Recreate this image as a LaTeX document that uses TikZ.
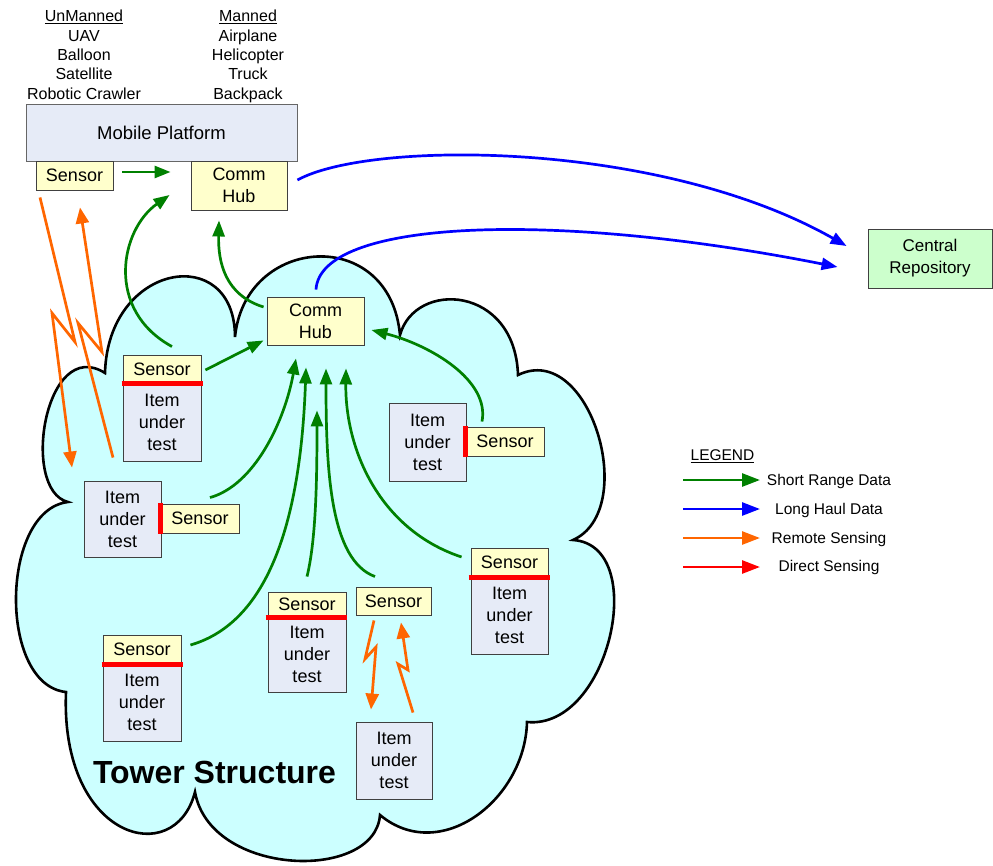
\documentclass[tikz,border=0pt]{standalone}
\usepackage{fontspec}
\setmainfont{Liberation Sans}
\usetikzlibrary{arrows.meta,calc}
\definecolor{cloudfill}{HTML}{CCFFFF}
\definecolor{sensorfill}{HTML}{FFFFCC}
\definecolor{itemfill}{HTML}{E6EBF7}
\definecolor{repofill}{HTML}{CCFFCC}
\definecolor{boxline}{HTML}{404040}
\definecolor{gdata}{HTML}{008000}
\definecolor{bdata}{HTML}{0000FF}
\definecolor{odata}{HTML}{FF6600}
\definecolor{rdata}{HTML}{FF0000}
\begin{document}
\begin{tikzpicture}[x=1pt,y=-1pt,
  every node/.style={inner sep=0pt},
  boxbase/.style={draw=boxline, line width=0.9pt, align=center, font=\fontsize{18}{22}\selectfont},
  sensorbox/.style={boxbase, fill=sensorfill, minimum height=29pt, minimum width=78pt},
  itembox/.style={boxbase, fill=itemfill, minimum width=77pt, minimum height=77pt},
  hubbox/.style={boxbase, fill=sensorfill, minimum width=97pt, minimum height=48pt},
  listtext/.style={anchor=base, font=\fontsize{16}{19}\selectfont},
  legtext/.style={anchor=base, font=\fontsize{15.5}{19}\selectfont},
  garrow/.style={draw=gdata, line width=2.7pt, -{Triangle[length=16pt,width=12pt]}},
  barrow/.style={draw=bdata, line width=2.7pt, -{Triangle[length=16pt,width=12pt]}},
  oarrow/.style={draw=odata, line width=2.7pt, line join=miter, -{Triangle[length=16pt,width=13pt]}},
  rarrow/.style={draw=rdata, line width=2.7pt, -{Triangle[length=16pt,width=13pt]}},
  redmark/.style={draw=rdata, line width=4.5pt},
  cloudline/.style={draw=black, fill=cloudfill, line width=2.6pt, line join=miter}
]
\useasboundingbox (0,0) rectangle (993,865);
\fill[white] (0,0) rectangle (993,865);

% cloud
\path[cloudline] (235,337) .. controls (245,235) and (390,225) .. (400,335)
 .. controls (415,280) and (515,285) .. (518,375)
 .. controls (590,340) and (640,510) .. (573,540)
 .. controls (650,545) and (610,730) .. (527,722)
 .. controls (525,800) and (440,865) .. (380,815)
 .. controls (375,882) and (210,877) .. (195,792)
 .. controls (175,870) and (60,840) .. (66,692)
 .. controls (-2,685) and (0,510) .. (68,502)
 .. controls (20,490) and (45,335) .. (105,373)
 .. controls (108,262) and (235,242) .. (235,337) -- cycle;

% top lists
\node[listtext] (ut1) at (84,21.7) {\underline{UnManned}};
\node[listtext] (ut2) at (84,41) {UAV};
\node[listtext] (ut3) at (84,60.3) {Balloon};
\node[listtext] (ut4) at (84,79.7) {Satellite};
\node[listtext] (ut5) at (84,99.2) {Robotic Crawler};
\node[listtext] (mt1) at (248,21.7) {\underline{Manned}};
\node[listtext] (mt2) at (248,41) {Airplane};
\node[listtext] (mt3) at (248,60.3) {Helicopter};
\node[listtext] (mt4) at (248,79.7) {Truck};
\node[listtext] (mt5) at (248,99.2) {Backpack};

% mobile platform
\node[boxbase, draw=boxline!80, fill=itemfill, minimum width=271pt, minimum height=57pt, font=\fontsize{18.5}{22}\selectfont] (mp) at (161.5,132.5) {Mobile Platform};
\node[sensorbox, minimum width=77pt] (sTop) at (74.5,175.5) {Sensor};
\node[hubbox, minimum width=96pt, minimum height=49pt] (chTop) at (239,185.5) {Comm\\Hub};

% central repository
\node[boxbase, fill=repofill, minimum width=124pt, minimum height=59pt, font=\fontsize{17}{22}\selectfont] (cr) at (930,258.5) {Central\\Repository};

% cloud comm hub
\node[hubbox] (ch) at (315.5,321) {Comm\\Hub};

% sensor / item groups
\node[itembox, minimum width=78pt, minimum height=78pt] (i1) at (162,422) {Item\\under\\test};
\node[sensorbox, minimum height=28pt] (s1) at (162,369) {Sensor};
\draw[redmark] ($(s1.south west)+(-1,0)$) -- ($(s1.south east)+(2,0)$);

\node[itembox, minimum height=76pt] (i2) at (122.5,519) {Item\\under\\test};
\node[sensorbox] (s2) at (200,518.5) {Sensor};
\draw[redmark] ($(s2.north west)+(0,-1)$) -- ($(s2.south west)+(0,1)$);

\node[itembox, minimum height=78pt] (i3) at (427.5,442) {Item\\under\\test};
\node[sensorbox] (s3) at (505,441.5) {Sensor};
\draw[redmark] ($(s3.north west)+(0,-1)$) -- ($(s3.south west)+(0,1)$);

\node[itembox] (i4) at (509.5,615.5) {Item\\under\\test};
\node[sensorbox, minimum width=77pt] (s4) at (509.5,562.5) {Sensor};
\draw[redmark] ($(s4.south west)+(-2,0)$) -- ($(s4.south east)+(2,0)$);

\node[itembox, minimum width=78pt] (i5) at (142,702.5) {Item\\under\\test};
\node[sensorbox] (s5) at (142,649.5) {Sensor};
\draw[redmark] ($(s5.south west)+(-1,0)$) -- ($(s5.south east)+(2,0)$);

\node[itembox, minimum width=78pt, minimum height=75pt] (i6) at (307,654.5) {Item\\under\\test};
\node[sensorbox, minimum height=25pt] (s6) at (307,604.5) {Sensor};
\draw[redmark] ($(s6.south west)+(-2,0)$) -- ($(s6.south east)+(1,0)$);

\node[sensorbox, minimum width=75pt, minimum height=28pt] (s7) at (393.5,601) {Sensor};
\node[itembox, minimum width=76pt] (i7) at (394,760.5) {Item\\under\\test};

% tower label
\node[anchor=base, font=\fontsize{32}{36}\selectfont\bfseries] (tower) at (214.5,783) {Tower Structure};

% green short range arrows
\draw[garrow] ($(sTop.east)+(9,-3.5)$) -- ($(chTop.west)+(-20,-13.5)$);
\draw[garrow] ($(s1.north)+(10,-8)$) .. controls (105,310) and (120,230) .. ($(chTop.west)+(-21,9.5)$);
\draw[garrow] ($(ch.west)+(-3,-14)$) .. controls (225,295) and (218,262) .. ($(chTop.south)+(-20,10)$);
\draw[garrow] ($(s1.east)+(4,1)$) -- ($(ch.south west)+(-3,-5)$);
\draw[garrow] ($(s2.north)+(10,-6)$) .. controls (255,485) and (285,420) .. ($(ch.south)+(-19.5,13)$);
\draw[garrow] ($(s5.east)+(9,-4.5)$) .. controls (260,625) and (300,540) .. ($(ch.south)+(-9.5,22)$);
\draw[garrow] ($(s6.north)+(0,-15)$) .. controls (316,540) and (317,480) .. ($(ch.south)+(1.5,65)$);
\draw[garrow] ($(s7.north)+(-18.5,-10)$) .. controls (330,560) and (326,470) .. ($(ch.south)+(10.5,23)$);
\draw[garrow] ($(s4.west)+(-9,-5.5)$) .. controls (380,530) and (345,450) .. ($(ch.south)+(30.5,23)$);
\draw[garrow] ($(s3.north)+(-23,-5)$) .. controls (490,380) and (430,345) .. ($(ch.east)+(7,9)$);

% blue long haul arrows
\draw[barrow] ($(chTop.east)+(10,-5.5)$) .. controls (370,140) and (660,140) .. ($(cr.west)+(-21,-12.5)$);
\draw[barrow] ($(ch.north)+(0.5,-7)$) .. controls (320,220) and (550,210) .. ($(cr.west)+(-30,8.5)$);

% orange remote sensing arrows
\draw[oarrow] ($(sTop.south)+(-34.5,7)$) -- (75,342) -- (52,313) -- ($(i2.north)+(-50.5,-13)$);
\draw[oarrow] ($(i2.north)+(-9.5,-23)$) -- (78,323) -- (102,352) -- ($(sTop.south)+(5.5,17)$);
\draw[oarrow] ($(s7.south)+(-19.5,5)$) -- (365,659) -- (376,647) -- ($(i7.north)+(-23,-12)$);
\draw[oarrow] ($(i7.north)+(19,-9)$) -- (398,664) -- (408,670) -- ($(s7.south)+(7.5,7)$);

% legend
\node[legtext] (leg) at (722.5,460.7) {\underline{LEGEND}};
\coordinate (la1) at (683,480); \coordinate (lb1) at (760,480);
\coordinate (la2) at (683,509); \coordinate (lb2) at (760,509);
\coordinate (la3) at (683,538); \coordinate (lb3) at (760,538);
\coordinate (la4) at (683,567); \coordinate (lb4) at (760,567);
\draw[garrow, -{Triangle[length=18pt,width=13pt]}] (la1) -- (lb1);
\draw[barrow, -{Triangle[length=18pt,width=13pt]}] (la2) -- (lb2);
\draw[oarrow, -{Triangle[length=18pt,width=13pt]}] (la3) -- (lb3);
\draw[rarrow, -{Triangle[length=18pt,width=13pt]}] (la4) -- (lb4);
\node[legtext] (lt1) at (829,485) {Short Range Data};
\node[legtext] (lt2) at (829,514) {Long Haul Data};
\node[legtext] (lt3) at (829,543) {Remote Sensing};
\node[legtext] (lt4) at (829,571.7) {Direct Sensing};
\end{tikzpicture}
\end{document}
